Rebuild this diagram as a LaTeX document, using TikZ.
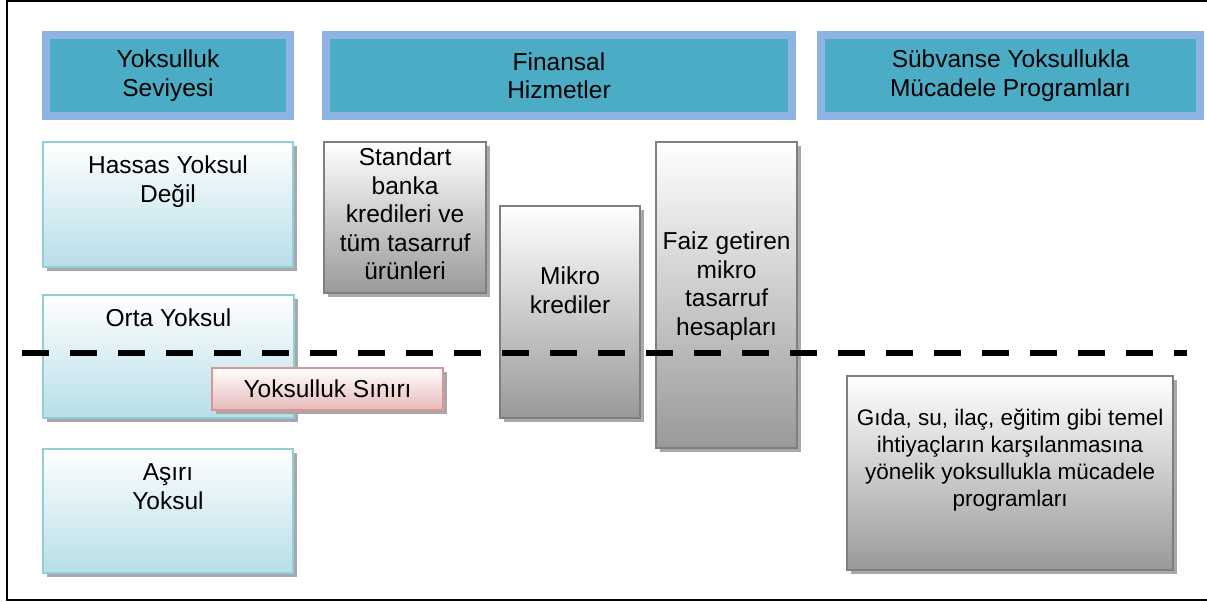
\documentclass[tikz,border=0pt]{standalone}
\usepackage{fontspec}
\setmainfont{Liberation Sans}
\usepackage{tikz}
\usetikzlibrary{shadows}
\usetikzlibrary{positioning}

\definecolor{hdrEdge}{HTML}{8EB4E3}
\definecolor{hdrFill}{HTML}{4BACC6}
\definecolor{lvlEdge}{HTML}{93CDDD}
\definecolor{lvlFill}{HTML}{B7DEE8}
\definecolor{srvEdge}{HTML}{7F7F7F}
\definecolor{srvFill}{HTML}{999999}
\definecolor{limEdge}{HTML}{D99694}
\definecolor{limFill}{HTML}{E6B9B8}
\definecolor{shadowGray}{HTML}{A8A8A8}

\tikzset{
  boxshadow/.style={drop shadow={shadow xshift=4pt, shadow yshift=-4pt, fill=shadowGray, opacity=1}},
  hdr/.style={boxshadow, draw=hdrEdge, line width=8pt, fill=hdrFill, anchor=north west,
    minimum height=81pt, inner sep=0pt, align=center, font=\fontsize{24.5}{28.5}\selectfont},
  lvl/.style={boxshadow, draw=lvlEdge, line width=2pt, top color=white, bottom color=lvlFill,
    anchor=north west, inner sep=0pt, align=center, font=\fontsize{24.5}{28.5}\selectfont},
  srv/.style={boxshadow, draw=srvEdge, line width=2.2pt, top color=white, bottom color=srvFill,
    anchor=north west, inner sep=0pt},
  lim/.style={boxshadow, draw=limEdge, line width=2pt, top color=white, bottom color=limFill,
    anchor=north west, inner sep=0pt, align=center, font=\fontsize{24.5}{28.5}\selectfont},
  txt/.style={inner sep=0pt, outer sep=0pt, align=center, font=\fontsize{24.5}{28.5}\selectfont},
  povline/.style={line width=6pt, dash pattern=on 27pt off 21pt}
}

\begin{document}
\begin{tikzpicture}[x=1pt, y=-1pt]
  \useasboundingbox (0,0) rectangle (1207,602);
  \draw [line width=2pt] (1210,1.5) -- (6.5,1.5) -- (6.5,599.5) -- (1210,599.5);

  % column heads
  \node (hLevel) [hdr, minimum width=244pt] at (42,31) {Yoksulluk\\Seviyesi};
  \node (hFin) [hdr, minimum width=466pt] at (322,31) {Finansal\\Hizmetler};
  \node (hSub) [hdr, minimum width=379pt] at (817,31) {Sübvanse Yoksullukla\\Mücadele Programları};

  % poverty levels
  \node (bHassas) [lvl, minimum width=250pt, minimum height=125pt] at (42,141) {};
  \node (tHassas) [txt, below=15pt of bHassas.north] {Hassas Yoksul\\Değil};
  \node (bOrta) [lvl, minimum width=251pt, minimum height=123pt] at (42,294) {};
  \node (tOrta) [txt, below=15pt of bOrta.north] {Orta Yoksul};
  \node (bAsiri) [lvl, minimum width=250pt, minimum height=124pt] at (42,448) {};
  \node (tAsiri) [txt, below=16pt of bAsiri.north] {Aşırı\\Yoksul};

  % services
  \node (bStandart) [srv, minimum width=162pt, minimum height=151pt] at (323,141) {};
  \node (tStandart) [txt, below=7pt of bStandart.north] {Standart\\banka\\kredileri ve\\tüm tasarruf\\ürünleri};
  \node (bMikro) [srv, minimum width=140pt, minimum height=212pt] at (499,205) {};
  \node (tMikro) [txt, below=62pt of bMikro.north] {Mikro\\krediler};
  \node (bFaiz) [srv, minimum width=141pt, minimum height=306pt] at (655,141) {};
  \node (tFaiz) [txt, below=91pt of bFaiz.north] {Faiz getiren\\mikro\\tasarruf\\hesapları};
  \node (bGida) [srv, minimum width=326pt, minimum height=194pt] at (846,375) {};
  \node (tGida) [txt, font=\fontsize{22.5}{27}\selectfont, below=34pt of bGida.north]
    {Gıda, su, ilaç, eğitim gibi temel\\ihtiyaçların karşılanmasına\\yönelik yoksullukla mücadele\\programları};

  % poverty line
  \coordinate (povL) at (22,353);
  \coordinate (povR) at (1187,353);
  \draw [povline] (povL) -- (povR);
  \node (bSinir) [lim, minimum width=231pt, minimum height=42pt] at (211,367) {Yoksulluk Sınırı};
\end{tikzpicture}
\end{document}
